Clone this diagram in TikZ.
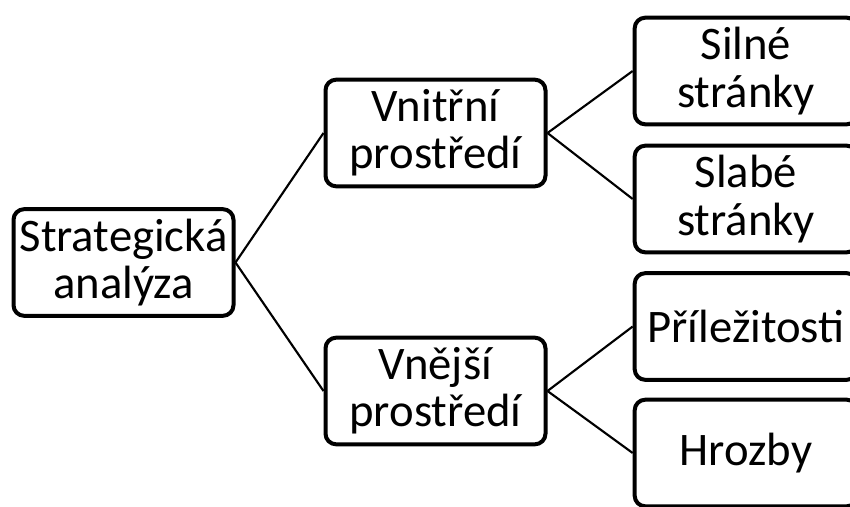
\documentclass[tikz,border=0pt]{standalone}
\usepackage{fontspec}
\setmainfont{Carlito}
\begin{document}
\begin{tikzpicture}[x=0.75pt,y=-0.75pt,
        box/.style={draw,line width=3pt,rounded corners=8pt,align=center,inner sep=0pt,
            minimum width=165pt,minimum height=80pt,font=\fontsize{35}{35.5}\selectfont},
        leaf/.style={box,minimum width=167pt},
        link/.style={line width=1.6pt}]
        \clip (0,0) rectangle (850,507);
        \node[box] (strat) at (123.5,262.5) {Strategická\\analýza};
        \node[box] (inner) at (435.5,133) {Vnitřní\\prostředí};
        \node[box] (outer) at (435.5,391) {Vnější\\prostředí};
        \node[leaf] (strong) at (746,71) {Silné\\stránky};
        \node[leaf] (weak) at (746,199) {Slabé\\stránky};
        \node[leaf] (opport) at (746,326.5) {Příležitosti};
        \node[leaf] (threat) at (746,453) {Hrozby};
        \draw[link] (strat.east) -- (inner.west);
        \draw[link] (strat.east) -- (outer.west);
        \draw[link] (inner.east) -- (strong.west);
        \draw[link] (inner.east) -- (weak.west);
        \draw[link] (outer.east) -- (opport.west);
        \draw[link] (outer.east) -- (threat.west);
    \end{tikzpicture}
\end{document}
